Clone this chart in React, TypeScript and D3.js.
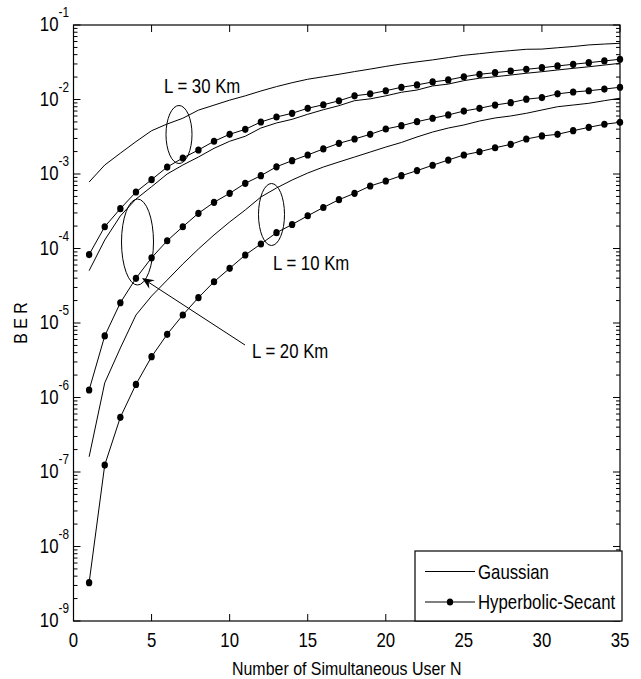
import * as d3 from 'd3';

// number of simultaneous users
const users = [1, 2, 3, 4, 5, 6, 7, 8, 9, 10, 11, 12, 13, 14, 15, 16, 17, 18, 19, 20,
  21, 22, 23, 24, 25, 26, 27, 28, 29, 30, 31, 32, 33, 34, 35];

// BER values
const gaussian30 = [7.8e-4, 1.32e-3, 1.9e-3, 2.72e-3, 3.81e-3, 4.69e-3, 5.6e-3, 7.2e-3, 8.4e-3, 9.8e-3,
  1.12e-2, 1.3e-2, 1.49e-2, 1.68e-2, 1.87e-2, 2.02e-2, 2.18e-2, 2.37e-2, 2.56e-2, 2.78e-2,
  3.0e-2, 3.2e-2, 3.4e-2, 3.65e-2, 3.92e-2, 4.12e-2, 4.34e-2, 4.53e-2, 4.72e-2, 4.75e-2,
  4.95e-2, 5.14e-2, 5.4e-2, 5.55e-2, 5.68e-2];
const hypsec30 = [8.3e-5, 1.96e-4, 3.42e-4, 5.73e-4, 8.4e-4, 1.24e-3, 1.64e-3, 2.1e-3, 2.75e-3, 3.41e-3,
  3.98e-3, 4.99e-3, 5.82e-3, 6.53e-3, 7.62e-3, 8.5e-3, 9.6e-3, 1.12e-2, 1.19e-2, 1.31e-2,
  1.46e-2, 1.57e-2, 1.72e-2, 1.83e-2, 2.02e-2, 2.18e-2, 2.29e-2, 2.41e-2, 2.54e-2, 2.67e-2,
  2.82e-2, 2.97e-2, 3.12e-2, 3.29e-2, 3.47e-2];
const gaussian20 = [5.04e-5, 1.3e-4, 2.73e-4, 4.61e-4, 6.75e-4, 1.0e-3, 1.32e-3, 1.69e-3, 2.21e-3, 2.75e-3,
  3.21e-3, 4.14e-3, 4.84e-3, 5.42e-3, 6.33e-3, 7.29e-3, 8.26e-3, 9.64e-3, 1.02e-2, 1.12e-2,
  1.25e-2, 1.34e-2, 1.52e-2, 1.61e-2, 1.79e-2, 1.93e-2, 2.02e-2, 2.13e-2, 2.25e-2, 2.36e-2,
  2.49e-2, 2.62e-2, 2.75e-2, 2.9e-2, 3.06e-2];
const hypsec20 = [1.26e-6, 6.7e-6, 1.87e-5, 3.98e-5, 7.5e-5, 1.27e-4, 1.96e-4, 2.97e-4, 4.17e-4, 5.5e-4,
  7.5e-4, 9.5e-4, 1.25e-3, 1.51e-3, 1.8e-3, 2.17e-3, 2.58e-3, 2.95e-3, 3.41e-3, 4.02e-3,
  4.45e-3, 5.04e-3, 5.6e-3, 6.2e-3, 7.0e-3, 7.62e-3, 8.43e-3, 9.06e-3, 1.01e-2, 1.06e-2,
  1.19e-2, 1.26e-2, 1.31e-2, 1.38e-2, 1.46e-2];
const gaussian10 = [1.6e-7, 1.57e-6, 4.61e-6, 1.28e-5, 2.3e-5, 3.77e-5, 6.19e-5, 9.84e-5, 1.52e-4, 2.27e-4,
  3.29e-4, 4.91e-4, 6.49e-4, 8.3e-4, 1.03e-3, 1.24e-3, 1.45e-3, 1.69e-3, 1.97e-3, 2.3e-3,
  2.65e-3, 3.14e-3, 3.66e-3, 4.14e-3, 4.55e-3, 5.14e-3, 5.65e-3, 6.01e-3, 6.53e-3, 7.23e-3,
  8.0e-3, 8.43e-3, 8.89e-3, 9.64e-3, 1.04e-2];
const hypsec10 = [3.27e-9, 1.24e-7, 5.42e-7, 1.5e-6, 3.53e-6, 7.05e-6, 1.28e-5, 2.19e-5, 3.58e-5, 5.42e-5,
  8.18e-5, 1.15e-4, 1.63e-4, 2.1e-4, 2.75e-4, 3.55e-4, 4.52e-4, 5.51e-4, 6.9e-4, 8.05e-4,
  9.49e-4, 1.11e-3, 1.31e-3, 1.54e-3, 1.8e-3, 1.99e-3, 2.25e-3, 2.5e-3, 2.95e-3, 3.24e-3,
  3.41e-3, 3.81e-3, 4.23e-3, 4.65e-3, 4.94e-3];

const xTicks = [0, 5, 10, 15, 20, 25, 30, 35];
const decades = [-9, -8, -7, -6, -5, -4, -3, -2, -1];

const gaussianSeries = [gaussian30, gaussian20, gaussian10];
const hypsecSeries = [hypsec30, hypsec20, hypsec10];

const FONT = "'Liberation Sans', Arial, Helvetica, sans-serif";
const SQUEEZE = 0.84; // the original uses a condensed face

// condensed text: drawn at (x, y) then squeezed horizontally
function T({ x, y, size = 20, anchor = 'start', rotate = 0, children }:
  { x: number; y: number; size?: number; anchor?: string; rotate?: number; children: any }) {
  return (
    <text
      transform={`translate(${x},${y}) rotate(${rotate}) scale(${SQUEEZE},1)`}
      textAnchor={anchor}
      fontSize={size}
      fill="#000"
    >
      {children}
    </text>
  );
}

export default function App() {
  const width = 641;
  const height = 679;
  const plot = { left: 73.5, right: 620, top: 25, bottom: 621 };

  const x = d3.scaleLinear().domain([0, 35]).range([plot.left, plot.right]);
  const y = d3.scaleLog().domain([1e-9, 1e-1]).range([plot.bottom, plot.top]);

  const line = d3.line<number>()
    .x((_, i) => x(users[i]))
    .y(d => y(d));

  // minor ticks 2..9 in each decade
  const minor: number[] = [];
  decades.slice(0, -1).forEach(p => {
    for (let k = 2; k <= 9; k++) minor.push(k * Math.pow(10, p));
  });

  const majorLen = 7;
  const minorLen = 4;

  // arrow for L = 20 Km annotation
  const tail = [245, 345];
  const tip = [142, 278];
  const dx = tail[0] - tip[0];
  const dy = tail[1] - tip[1];
  const len = Math.hypot(dx, dy);
  const ux = dx / len, uy = dy / len;
  const px = -uy, py = ux;
  const headL = 12, headW = 5, notch = 8;
  const head = [
    [tip[0], tip[1]],
    [tip[0] + ux * headL + px * headW, tip[1] + uy * headL + py * headW],
    [tip[0] + ux * notch, tip[1] + uy * notch],
    [tip[0] + ux * headL - px * headW, tip[1] + uy * headL - py * headW],
  ];

  return (
    <div style={{ position: 'absolute', left: 0, top: 0 }}>
      <svg width={width} height={height} style={{ display: 'block', background: '#fff' }}
        fontFamily={FONT}>
        <rect x={0} y={0} width={width} height={height} fill="#fff" />

        {/* series */}
        <g fill="none" stroke="#000" strokeWidth={1}>
          {gaussianSeries.map((s, i) => (
            <path key={'g' + i} d={line(s) || ''} />
          ))}
          {hypsecSeries.map((s, i) => (
            <path key={'h' + i} d={line(s) || ''} />
          ))}
        </g>
        <g fill="#000">
          {hypsecSeries.map((s, i) =>
            s.map((v, j) => (
              <ellipse key={`m${i}-${j}`} cx={x(users[j])} cy={y(v)} rx={3.2} ry={3.6} />
            ))
          )}
        </g>

        {/* axes box */}
        <rect x={plot.left} y={plot.top} width={plot.right - plot.left} height={plot.bottom - plot.top}
          fill="none" stroke="#000" strokeWidth={1.2} />

        {/* ticks */}
        <g stroke="#000" strokeWidth={1}>
          {xTicks.map(t => (
            <g key={'xt' + t}>
              <line x1={x(t)} x2={x(t)} y1={plot.bottom} y2={plot.bottom - majorLen} />
              <line x1={x(t)} x2={x(t)} y1={plot.top} y2={plot.top + majorLen} />
            </g>
          ))}
          {decades.map(p => (
            <g key={'yt' + p}>
              <line x1={plot.left} x2={plot.left + majorLen} y1={y(Math.pow(10, p))} y2={y(Math.pow(10, p))} />
              <line x1={plot.right} x2={plot.right - majorLen} y1={y(Math.pow(10, p))} y2={y(Math.pow(10, p))} />
            </g>
          ))}
          {minor.map((v, i) => (
            <g key={'ym' + i}>
              <line x1={plot.left} x2={plot.left + minorLen} y1={y(v)} y2={y(v)} />
              <line x1={plot.right} x2={plot.right - minorLen} y1={y(v)} y2={y(v)} />
            </g>
          ))}
        </g>

        {/* tick labels */}
        {xTicks.map(t => (
          <T key={'xl' + t} x={x(t)} y={plot.bottom + 26} anchor="middle">{t}</T>
        ))}
        {decades.map(p => (
          <g key={'yl' + p}>
            <T x={58.5} y={y(Math.pow(10, p)) + 6} anchor="end">10</T>
            <T x={58.5} y={y(Math.pow(10, p)) - 8} size={14}>{String(p)}</T>
          </g>
        ))}

        {/* axis titles */}
        <T x={(plot.left + plot.right) / 2} y={675} anchor="middle" size={19}>
          Number of Simultaneous User N
        </T>
        <T x={27} y={(plot.top + plot.bottom) / 2} anchor="middle" size={19} rotate={-90}>
          B E R
        </T>

        {/* annotations */}
        <g fill="none" stroke="#000" strokeWidth={1}>
          <ellipse cx={179} cy={134.5} rx={13} ry={29} />
          <ellipse cx={137.5} cy={242} rx={16} ry={43} />
          <ellipse cx={271.5} cy={214.5} rx={13} ry={31} />
          <line x1={tail[0]} y1={tail[1]} x2={tip[0] + ux * notch} y2={tip[1] + uy * notch} />
        </g>
        <polygon points={head.map(p => p.join(',')).join(' ')} fill="#000" />
        <T x={164} y={93}>L = 30 Km</T>
        <T x={273} y={270}>L = 10 Km</T>
        <T x={252} y={358}>L = 20 Km</T>

        {/* legend */}
        <g>
          <rect x={415} y={551} width={207} height={70} fill="#fff" stroke="#000" strokeWidth={1.2} />
          <line x1={425} x2={475} y1={571.5} y2={571.5} stroke="#000" strokeWidth={1} />
          <line x1={425} x2={475} y1={602} y2={602} stroke="#000" strokeWidth={1} />
          <ellipse cx={450} cy={602} rx={3.2} ry={3.6} fill="#000" />
        </g>
        <T x={478} y={578.5}>Gaussian</T>
        <T x={478} y={609}>Hyperbolic-Secant</T>
      </svg>
    </div>
  );
}
